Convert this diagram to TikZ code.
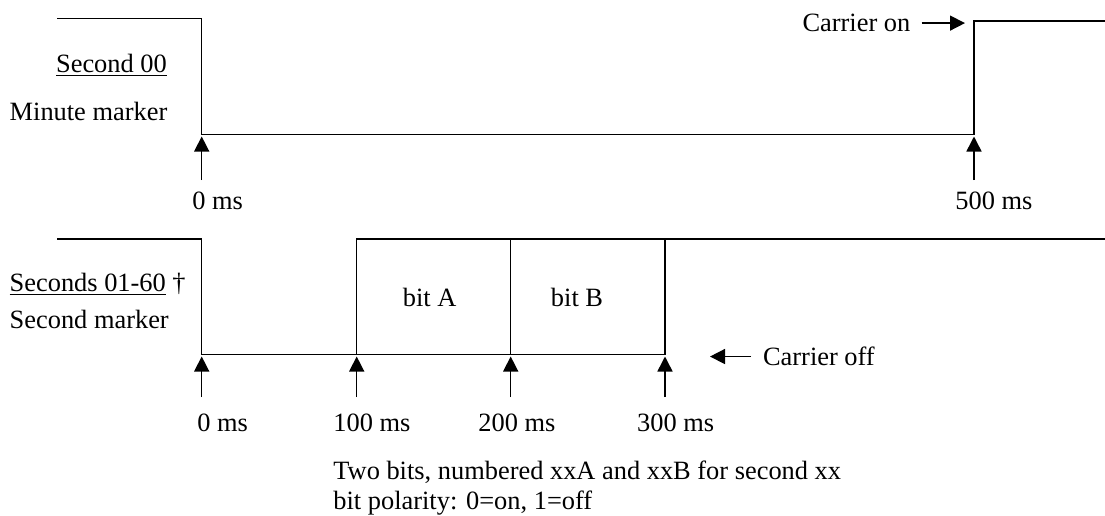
\documentclass[tikz,border=0pt]{standalone}
\usepackage{fontspec}
\setmainfont{Liberation Serif}
\usetikzlibrary{arrows.meta}

\begin{document}
\begin{tikzpicture}[
    x=0.5pt,
    y=-0.5pt,
    wave/.style={line width=0.75pt},
    pointer/.style={line width=0.75pt,-{Triangle[length=7.5pt,width=7.5pt]}},
    lbl/.style={inner sep=0pt,font=\fontsize{13.2}{16}\selectfont}
]
    \useasboundingbox (0,0) rectangle (1105,515);
    \begin{scope}
        % minute marker
        \coordinate (m0) at (201.7,136.5);
        \coordinate (m5) at (974,136.5);
        \coordinate (m0foot) at (201.7,180);
        \coordinate (m5foot) at (974,180);
        \coordinate (onTip) at (965,21.7);
        \draw[wave] (57.3,18.3) -- (201.7,18.3) -- (201.7,134.7) -- (974,134.7) -- (974,21) -- (1105,21);
        \draw[pointer] (m0foot) -- (m0);
        \draw[pointer] (m5foot) -- (m5);
        \node[lbl,anchor=base west] (sec00) at (55.7,72.7) {\underline{Second 00}};
        \node[lbl,anchor=base west] (minmark) at (9.3,120) {Minute marker};
        \node[lbl,anchor=base west] (m0lbl) at (192,209) {0 ms};
        \node[lbl,anchor=base west] (m5lbl) at (955,209) {500 ms};
        \node[lbl,anchor=base east] (con) at (910.7,31.7) {Carrier on};
        \draw[pointer] ([xshift=5.5pt]con.east) -- (con.east -| onTip);
    \end{scope}
    \begin{scope}
        % second marker
        \coordinate (s0) at (201.7,356.5);
        \coordinate (s1) at (356.7,356.5);
        \coordinate (s2) at (510.7,356.5);
        \coordinate (s3) at (665,356.5);
        \coordinate (s0foot) at (201.7,397);
        \coordinate (s1foot) at (356.7,397);
        \coordinate (s2foot) at (510.7,397);
        \coordinate (s3foot) at (665,397);
        \coordinate (offTip) at (710,355);
        \draw[wave] (57.3,239) -- (201.7,239) -- (201.7,354.7) -- (665,354.7) -- (665,239);
        \draw[wave] (356.7,354.7) -- (356.7,239) -- (1105,239);
        \draw[wave] (510.7,354.7) -- (510.7,239);
        \draw[pointer] (s0foot) -- (s0);
        \draw[pointer] (s1foot) -- (s1);
        \draw[pointer] (s2foot) -- (s2);
        \draw[pointer] (s3foot) -- (s3);
        \node[lbl,anchor=base west] (secs) at (9.3,291.7) {\underline{Seconds 01-60} †};
        \node[lbl,anchor=base west] (secmark) at (9.3,328.3) {Second marker};
        \node[lbl,anchor=base] (bitA) at (429.7,306) {bit A};
        \node[lbl,anchor=base] (bitB) at (577,306) {bit B};
        \node[lbl,anchor=base west] (s0lbl) at (197,431.7) {0 ms};
        \node[lbl,anchor=base west] (s1lbl) at (333,431.7) {100 ms};
        \node[lbl,anchor=base west] (s2lbl) at (478,431.7) {200 ms};
        \node[lbl,anchor=base west] (s3lbl) at (636.7,431.7) {300 ms};
        \node[lbl,anchor=base west] (coff) at (762.7,365.7) {Carrier off};
        \draw[pointer] ([xshift=-5.8pt]coff.west) -- (coff.west -| offTip);
        \node[lbl,anchor=base west] (note1) at (333,479) {Two bits, numbered xxA and xxB for second xx};
        \node[lbl,anchor=base west] (note2) at (333,509.3) {bit polarity: 0=on, 1=off};
    \end{scope}
\end{tikzpicture}
\end{document}
